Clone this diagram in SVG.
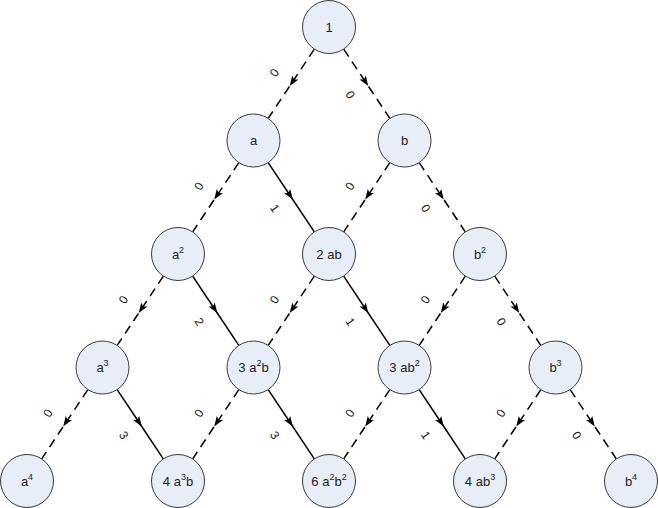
<svg xmlns="http://www.w3.org/2000/svg" width="658" height="508" viewBox="0 0 658 508">
<style>
.node circle{fill:#e8eef7;stroke:#3a3a3a;stroke-width:1}
.node text{font-family:"Liberation Sans",Arial,sans-serif;font-size:13px;fill:#222;text-anchor:middle}
.node tspan.sup{font-size:9px}
.e{fill:none;stroke:#000;stroke-width:1.5;marker-mid:url(#arr)}
.d{stroke-dasharray:9 6}
.lbl{font-family:"Liberation Sans",Arial,sans-serif;font-size:12px;fill:#111;text-anchor:middle;dominant-baseline:central}
</style>
<defs>
<marker id="arr" markerUnits="userSpaceOnUse" markerWidth="14" markerHeight="10" viewBox="-12 -5 15 10" refX="-3" refY="0" orient="auto" overflow="visible">
<path d="M0,0 L-11,-4 L-8.5,0 L-11,4 Z" fill="#000"/>
</marker>
</defs>
<g id="connectors">
<polyline class="e d" points="314.32,49.06 291.25,83.75 268.18,118.44"/>
<polyline class="e d" points="343.68,49.06 366.75,83.75 389.82,118.44"/>
<polyline class="e d" points="238.82,162.56 215.75,197.25 192.68,231.94"/>
<polyline class="e" points="268.18,162.56 291.25,197.25 314.32,231.94"/>
<polyline class="e d" points="389.82,162.56 366.75,197.25 343.68,231.94"/>
<polyline class="e d" points="419.18,162.56 442.25,197.25 465.32,231.94"/>
<polyline class="e d" points="163.32,276.06 140.25,310.75 117.18,345.44"/>
<polyline class="e" points="192.68,276.06 215.75,310.75 238.82,345.44"/>
<polyline class="e d" points="314.32,276.06 291.25,310.75 268.18,345.44"/>
<polyline class="e" points="343.68,276.06 366.75,310.75 389.82,345.44"/>
<polyline class="e d" points="465.32,276.06 442.25,310.75 419.18,345.44"/>
<polyline class="e d" points="494.68,276.06 517.75,310.75 540.82,345.44"/>
<polyline class="e d" points="87.82,389.56 64.75,424.25 41.68,458.94"/>
<polyline class="e" points="117.18,389.56 140.25,424.25 163.32,458.94"/>
<polyline class="e d" points="238.82,389.56 215.75,424.25 192.68,458.94"/>
<polyline class="e" points="268.18,389.56 291.25,424.25 314.32,458.94"/>
<polyline class="e d" points="389.82,389.56 366.75,424.25 343.68,458.94"/>
<polyline class="e" points="419.18,389.56 442.25,424.25 465.32,458.94"/>
<polyline class="e d" points="540.82,389.56 517.75,424.25 494.68,458.94"/>
<polyline class="e d" points="570.18,389.56 593.25,424.25 616.32,458.94"/>
<text class="lbl" x="274.6" y="72.67" transform="rotate(-56.4 274.6 72.67)">0</text>
<text class="lbl" x="350.1" y="94.83" transform="rotate(56.4 350.1 94.83)">0</text>
<text class="lbl" x="199.1" y="186.17" transform="rotate(-56.4 199.1 186.17)">0</text>
<text class="lbl" x="274.6" y="208.33" transform="rotate(56.4 274.6 208.33)">1</text>
<text class="lbl" x="350.1" y="186.17" transform="rotate(-56.4 350.1 186.17)">0</text>
<text class="lbl" x="425.6" y="208.33" transform="rotate(56.4 425.6 208.33)">0</text>
<text class="lbl" x="123.6" y="299.67" transform="rotate(-56.4 123.6 299.67)">0</text>
<text class="lbl" x="199.1" y="321.83" transform="rotate(56.4 199.1 321.83)">2</text>
<text class="lbl" x="274.6" y="299.67" transform="rotate(-56.4 274.6 299.67)">0</text>
<text class="lbl" x="350.1" y="321.83" transform="rotate(56.4 350.1 321.83)">1</text>
<text class="lbl" x="425.6" y="299.67" transform="rotate(-56.4 425.6 299.67)">0</text>
<text class="lbl" x="501.1" y="321.83" transform="rotate(56.4 501.1 321.83)">0</text>
<text class="lbl" x="48.1" y="413.17" transform="rotate(-56.4 48.1 413.17)">0</text>
<text class="lbl" x="123.6" y="435.33" transform="rotate(56.4 123.6 435.33)">3</text>
<text class="lbl" x="199.1" y="413.17" transform="rotate(-56.4 199.1 413.17)">0</text>
<text class="lbl" x="274.6" y="435.33" transform="rotate(56.4 274.6 435.33)">3</text>
<text class="lbl" x="350.1" y="413.17" transform="rotate(-56.4 350.1 413.17)">0</text>
<text class="lbl" x="425.6" y="435.33" transform="rotate(56.4 425.6 435.33)">1</text>
<text class="lbl" x="501.1" y="413.17" transform="rotate(-56.4 501.1 413.17)">0</text>
<text class="lbl" x="576.6" y="435.33" transform="rotate(56.4 576.6 435.33)">0</text>
</g>
<g id="n1" class="node"><circle cx="329" cy="27" r="26.5"/><text x="329" y="31.5">1</text></g>
<g id="na" class="node"><circle cx="253.5" cy="140.5" r="26.5"/><text x="253.5" y="144.5">a</text></g>
<g id="nb" class="node"><circle cx="404.5" cy="140.5" r="26.5"/><text x="404.5" y="145">b</text></g>
<g id="na2" class="node"><circle cx="178" cy="254" r="26.5"/><text x="178" y="258.5">a<tspan class="sup" dy="-6">2</tspan></text></g>
<g id="n2ab" class="node"><circle cx="329" cy="254" r="26.5"/><text x="329" y="258.5">2 ab</text></g>
<g id="nb2" class="node"><circle cx="480" cy="254" r="26.5"/><text x="480" y="258.5">b<tspan class="sup" dy="-6">2</tspan></text></g>
<g id="na3" class="node"><circle cx="102.5" cy="367.5" r="26.5"/><text x="102.5" y="372">a<tspan class="sup" dy="-6">3</tspan></text></g>
<g id="n3a2b" class="node"><circle cx="253.5" cy="367.5" r="26.5"/><text x="253.5" y="372">3 a<tspan class="sup" dy="-6">2</tspan><tspan dy="6">b</tspan></text></g>
<g id="n3ab2" class="node"><circle cx="404.5" cy="367.5" r="26.5"/><text x="404.5" y="372">3 ab<tspan class="sup" dy="-6">2</tspan></text></g>
<g id="nb3" class="node"><circle cx="555.5" cy="367.5" r="26.5"/><text x="555.5" y="372">b<tspan class="sup" dy="-6">3</tspan></text></g>
<g id="na4" class="node"><circle cx="27" cy="481" r="26.5"/><text x="27" y="485.5">a<tspan class="sup" dy="-6">4</tspan></text></g>
<g id="n4a3b" class="node"><circle cx="178" cy="481" r="26.5"/><text x="178" y="485.5">4 a<tspan class="sup" dy="-6">3</tspan><tspan dy="6">b</tspan></text></g>
<g id="n6a2b2" class="node"><circle cx="329" cy="481" r="26.5"/><text x="329" y="485.5">6 a<tspan class="sup" dy="-6">2</tspan><tspan dy="6">b</tspan><tspan class="sup" dy="-6">2</tspan></text></g>
<g id="n4ab3" class="node"><circle cx="480" cy="481" r="26.5"/><text x="480" y="485.5">4 ab<tspan class="sup" dy="-6">3</tspan></text></g>
<g id="nb4" class="node"><circle cx="631" cy="481" r="26.5"/><text x="631" y="485.5">b<tspan class="sup" dy="-6">4</tspan></text></g>
</svg>
